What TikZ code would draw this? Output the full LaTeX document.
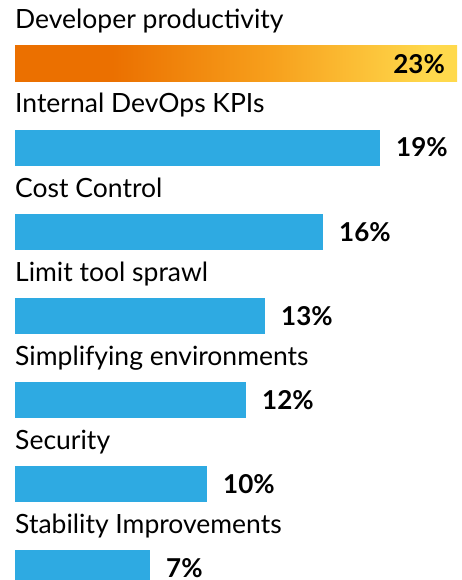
\documentclass[tikz,border=0pt]{standalone}
\usepackage{fontspec}
\setmainfont{Lato}
\usetikzlibrary{positioning}
\definecolor{barblue}{HTML}{2EAAE2}
\definecolor{devorange}{HTML}{EB7000}
\definecolor{devmid}{HTML}{F7A01C}
\definecolor{devyellow}{HTML}{FFD94C}
\pgfdeclarehorizontalshading{devshade}{100bp}{color(0bp)=(devorange); color(36bp)=(devorange); color(54bp)=(devmid); color(72bp)=(devyellow); color(100bp)=(devyellow)}

\begin{document}
\begin{tikzpicture}[x=1pt,y=-1pt,
    bar/.style={anchor=north west, minimum height=36pt, inner sep=0pt, outer sep=0pt, fill=barblue},
    cat/.style={anchor=base west, inner sep=0pt, font=\fontsize{26.5}{30}\selectfont},
    pct/.style={anchor=base west, inner sep=0pt, font=\fontsize{26}{30}\selectfont\bfseries}]
        \useasboundingbox (0,0) rectangle (461,580);
        % Top bar, shaded, with its value inside
        \node[cat] (devlabel) at (15,29) {Developer productivity};
        \node[bar, shade, shading=devshade, minimum width=442pt] (dev) at (15,46) {};
        \node[pct, anchor=base east] (devval) at ([xshift=-12pt,yshift=-28pt]dev.north east) {23\%};
        % Remaining bars
        \foreach \name/\label/\len/\val [count=\i] in {kpis/Internal DevOps KPIs/365/19, cost/Cost Control/308/16, sprawl/Limit tool sprawl/250/13, envs/Simplifying environments/231/12, sec/Security/192/10, stab/Stability Improvements/135/7} {
            \node[cat] (\name label) at (15,29+84*\i) {\label};
            \node[bar, minimum width=\len pt] (\name) at (15,46+84*\i) {};
            \node[pct] (\name val) at ([xshift=16pt,yshift=-27pt]\name.north east) {\val\%};
        }
    \end{tikzpicture}
\end{document}
